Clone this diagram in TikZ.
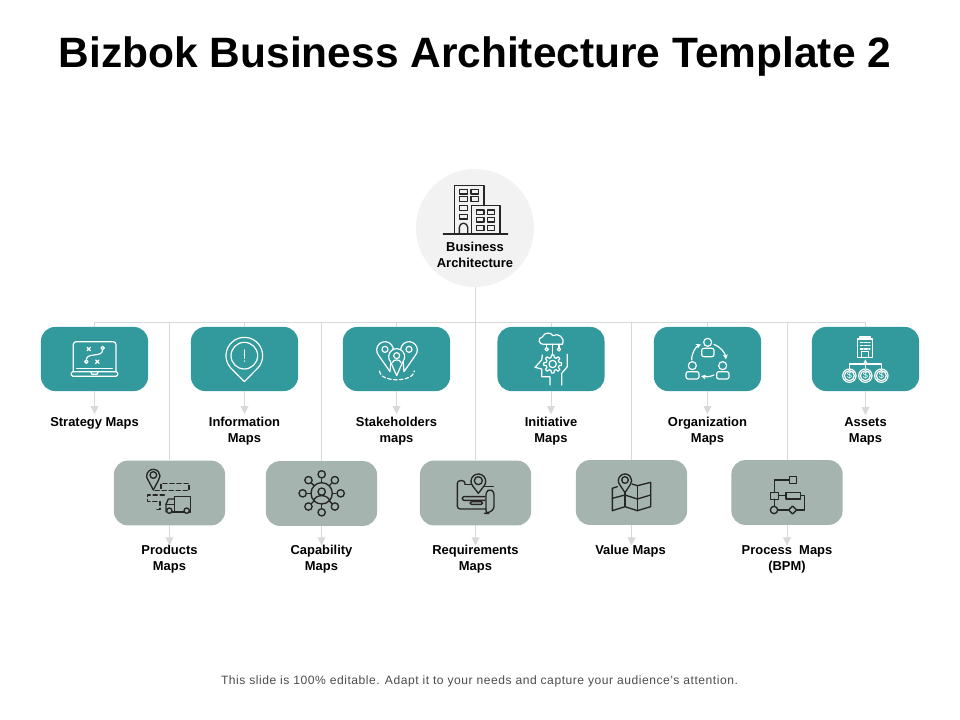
\documentclass[tikz,border=0pt]{standalone}
\usepackage{fontspec}
\setmainfont{Liberation Sans}
\usetikzlibrary{arrows.meta}
\definecolor{tealbox}{HTML}{329A9D}
\definecolor{sagebox}{HTML}{A5B4AE}
\definecolor{busgray}{HTML}{D9D9D9}
\definecolor{rootgray}{HTML}{F2F2F2}
\definecolor{iconink}{HTML}{262626}
\tikzset{
  tealnode/.style={fill=tealbox, rounded corners=0.35cm, minimum width=2.675cm, minimum height=1.6cm, inner sep=0pt, outer sep=0pt},
  sagenode/.style={fill=sagebox, rounded corners=0.35cm, minimum width=2.78cm, minimum height=1.62cm, inner sep=0pt, outer sep=0pt},
  maplabel/.style={font=\fontsize{9.2}{11.4}\selectfont\bfseries, align=center, inner sep=0pt, anchor=north},
  busline/.style={draw=busgray, line width=0.6pt},
  tipline/.style={busline, -{Triangle[width=5.6pt,length=5.6pt]}},
  zoomunits/.style={x=0.008333cm, y=-0.008333cm},
  iconwhite/.style={zoomunits, draw=white, line width=0.85pt, line join=round, line cap=round},
  iconblack/.style={zoomunits, draw=iconink, line width=0.95pt, line join=round, line cap=round},
  smallsign/.style={text=white, font=\fontsize{6.5}{6.5}\selectfont, inner sep=0pt}
}
\newcommand{\mappin}[6][]{\draw[#1] (#2,#3) ++(140:#4) arc (140:400:#4) -- (#5,#6) -- cycle;}
\begin{document}
\begin{tikzpicture}[x=0.025cm, y=-0.025cm]
\useasboundingbox (0,0) rectangle (960,720);

\node[font=\fontsize{30.2}{32}\selectfont\bfseries, inner sep=0pt] (title) at (475,56.5) {Bizbok Business Architecture Template 2};

\node[circle, fill=rootgray, minimum size=2.95cm, inner sep=0pt, outer sep=0pt] (root) at (475,228) {};
\node[maplabel] (rootlabel) at (475,242.2) {Business\\Architecture};

\node[tealnode] (strategy) at (94.5,359) {};
\node[tealnode] (information) at (244.5,359) {};
\node[tealnode] (stakeholders) at (396.5,359) {};
\node[tealnode] (initiative) at (551,359) {};
\node[tealnode] (organization) at (707.5,359) {};
\node[tealnode] (assets) at (865.5,359) {};

\node[sagenode] (products) at (169.5,493) {};
\node[sagenode] (capability) at (321.5,493.5) {};
\node[sagenode] (requirements) at (475.5,493) {};
\node[sagenode] (value) at (631.5,492.5) {};
\node[sagenode] (process) at (787,492.5) {};

\node[maplabel] (strategylabel) at (94.5,416.7) {Strategy Maps};
\node[maplabel] (informationlabel) at (244.5,416.7) {Information\\Maps};
\node[maplabel] (stakeholderslabel) at (396.5,416.7) {Stakeholders\\maps};
\node[maplabel] (initiativelabel) at (551,416.7) {Initiative\\Maps};
\node[maplabel] (organizationlabel) at (707.5,416.7) {Organization\\Maps};
\node[maplabel] (assetslabel) at (865.5,417.7) {Assets\\Maps};

\node[maplabel] (productslabel) at (169.5,545.3) {Products\\Maps};
\node[maplabel] (capabilitylabel) at (321.5,545.3) {Capability\\Maps};
\node[maplabel] (requirementslabel) at (475.5,545.3) {Requirements\\Maps};
\node[maplabel] (valuelabel) at (630.5,545.3) {Value Maps};
\node[maplabel] (processlabel) at (787,545.3) {Process~ Maps\\(BPM)};

\node[font=\fontsize{8.6}{11}\selectfont\addfontfeature{LetterSpace=4.4}, text=black!70, inner sep=0pt] (footer) at (479.5,681) {This slide is 100\% editable. Adapt it to your needs and capture your audience's attention.};

\coordinate (busleft) at (94.5,322);
\coordinate (busright) at (865.5,322);
\draw[busline] (busleft) -- (busright);
\draw[busline] (root.south) -- (root.south |- busleft);
\foreach \mapname in {strategy,information,stakeholders,initiative,organization,assets,products,capability,requirements,value,process}
  \draw[busline] (\mapname.north |- busleft) -- (\mapname.north);
\foreach \mapname in {strategy,information,stakeholders,initiative,organization,assets}
  \draw[tipline, shorten >=1.9pt] (\mapname.south) -- (\mapname.south |- \mapname label.north);
\foreach \mapname in {products,capability,requirements,value,process}
  \draw[tipline] (\mapname.south) -- (\mapname.south |- \mapname label.north);

% building
\begin{scope}[shift={(400,160)}, iconblack]
\draw (163,222) -- (163,77) -- (252,77) -- (252,137);
\draw (215,222) -- (215,137) -- (300,137) -- (300,222);
\draw (130,222) -- (323,222);
\foreach \y in {88,110,137,163} \draw (178,\y) rectangle (203,\y+14);
\foreach \y in {88,110} \draw (213,\y) rectangle (235,\y+14);
\foreach \x in {230,262} \foreach \y in {150,172,197} \draw (\x,\y) rectangle (\x+22,\y+14);
\draw (178,222) -- (178,202) arc (-180:0:12.5) -- (203,222);
\end{scope}

% laptop
\begin{scope}[shift={(30,315)}, iconwhite]
\draw[rounded corners=2pt] (130,170) -- (130,80) -- (258,80) -- (258,170);
\draw[rounded corners=1pt] (124,170) rectangle (263,184);
\draw (182,170) -- (186,178) -- (201,178) -- (205,170);
\draw (140,160) -- (247,160);
\draw (171,97) -- (181,107) (181,97) -- (171,107);
\draw (197,135) -- (207,145) (207,135) -- (197,145);
\draw (218,99) circle (5);
\draw (169,140) circle (5);
\draw (218,104) .. controls (218,130) and (169,110) .. (169,135);
\end{scope}

% information pin
\begin{scope}[shift={(30,315)}, iconwhite]
\mappin{643}{122}{55}{643}{200}
\draw (643,122) circle (40);
\draw (643,105) -- (643,130);
\draw (643,138) -- (643,139);
\end{scope}

% stakeholder pins
\begin{scope}[shift={(335,315)}, iconwhite]
\mappin{150}{105}{25}{165}{170}
\mappin{222}{105}{25}{207}{170}
\mappin[fill=tealbox]{185}{125}{24}{185}{182}
\draw (150,103) circle (9);
\draw (222,103) circle (9);
\draw (185,122) circle (9);
\draw (172,143) .. controls (174,132) and (196,132) .. (198,143);
\draw[dash pattern=on 2.6pt off 1.6pt] (133,168) .. controls (135,203) and (235,203) .. (238,168);
\end{scope}

% initiative head
\begin{scope}[shift={(335,315)}, iconwhite]
\draw (628,88) .. controls (608,88) and (608,68) .. (622,66) .. controls (628,50) and (650,52) .. (654,62) .. controls (668,52) and (692,68) .. (682,88) -- cycle;
\draw (635,88) -- (635,98) (672,88) -- (672,98) (653,88) -- (653,120);
\draw (635,103) circle (5);
\draw (672,103) circle (5);
\draw (653,147) circle (11);
\draw[shift={(653,147)}] (-8:27) \foreach \a in {0,45,...,315} {-- (\a-8:27) -- (\a+8:27) -- (\a+14:20) -- (\a+31:20)} -- cycle;
\draw (622,120) -- (620,135) -- (600,157) -- (620,162) -- (620,185) -- (645,185) -- (645,210);
\draw (680,210) -- (680,175) -- (697,155) -- (697,118);
\end{scope}

% organization cycle
\begin{scope}[shift={(640,315)}, iconwhite]
\draw (203,82) circle (12);
\draw (157,152) circle (12);
\draw (248,152) circle (12);
\draw[rounded corners=1.5pt] (185,125) -- (185,100) -- (222,100) -- (222,125) -- cycle;
\draw[rounded corners=1.5pt] (138,192) -- (138,170) -- (177,170) -- (177,192) -- cycle;
\draw[rounded corners=1.5pt] (230,192) -- (230,170) -- (267,170) -- (267,192) -- cycle;
\draw[-{Stealth[length=3.5pt,width=3.5pt]}] (155,135) .. controls (155,112) and (168,95) .. (183,88);
\draw[-{Stealth[length=3.5pt,width=3.5pt]}] (222,88) .. controls (240,95) and (255,112) .. (258,133);
\draw[-{Stealth[length=3.5pt,width=3.5pt]}] (222,180) .. controls (210,186) and (195,186) .. (183,183);
\end{scope}

% assets tree
\begin{scope}[shift={(640,315)}, iconwhite]
\draw (653,128) rectangle (698,72);
\draw (660,72) -- (660,66) -- (691,66) -- (691,72);
\draw (665,128) -- (665,110) -- (685,110) -- (685,128);
\foreach \y in {82,92,102} \draw[dash pattern=on 2pt off 1pt] (661,\y) -- (690,\y);
\draw[-{Stealth[length=3.5pt,width=3.5pt]}] (676,158) -- (676,133);
\draw (628,162) -- (628,147) -- (724,147) -- (724,162);
\foreach \x in {628,676,724} \draw (\x,182) circle (20);
\foreach \x in {628,676,724} \draw (\x,182) circle (15);
\node[smallsign] (dollarleft) at (628,182) {\$};
\node[smallsign] (dollarmid) at (676,182) {\$};
\node[smallsign] (dollarright) at (724,182) {\$};
\end{scope}

% products route
\begin{scope}[shift={(105,450)}, iconblack]
\mappin{145}{78}{20}{145}{120}
\draw (145,75) circle (10);
\draw[densely dashed] (150,122) -- (252,122) -- (252,100) -- (168,100) -- (168,122);
\draw[densely dashed] (178,135) -- (128,135) -- (128,154) -- (165,154) -- (165,178) -- (148,178);
\draw (208,182) -- (208,140) -- (256,140) -- (256,186) -- (253,186);
\draw (208,147) -- (190,147) -- (183,163) -- (183,186);
\draw (183,163) -- (208,163);
\draw (200,186) -- (237,186);
\draw (193,182) circle (8);
\draw (245,182) circle (8);
\end{scope}

% capability wheel
\begin{scope}[shift={(105,450)}, iconblack]
\draw (650,130) circle (32);
\draw (650,125) circle (11);
\draw (626,152) .. controls (632,132) and (668,132) .. (674,152);
\foreach \a in {0,45,...,315} \draw (650,130) ++(\a:32) -- ++(\a:11);
\foreach \a in {0,90,180,270} \draw (650,130) ++(\a:57) circle (11);
\foreach \a in {45,135,225,315} \draw (650,130) ++(\a:56) circle (11);
\end{scope}

% requirements scroll
\begin{scope}[shift={(410,450)}, iconblack]
\draw[rounded corners=2pt] (165,103) -- (165,92) -- (142,92) -- (142,177) -- (228,177);
\draw (165,103) -- (186,103);
\draw (224,110) -- (250,110);
\draw[rounded corners=2pt] (228,190) -- (228,125) -- (240,118) -- (252,125) -- (252,178) -- (232,190) -- cycle;
\draw[rounded corners=1pt] (225,140) -- (157,140) -- (157,151) -- (225,151);
\draw[rounded corners=1pt] (180,155) rectangle (218,163);
\mappin[fill=sagebox]{205}{94}{22}{205}{130}
\draw (205,92) circle (12);
\end{scope}

% folded map
\begin{scope}[shift={(410,450)}, iconblack]
\draw (607,115) -- (607,182) -- (645,170) -- (682,182) -- (722,170) -- (722,97) -- (682,107) -- (666,102);
\draw (607,115) -- (622,110);
\draw (645,128) -- (645,170);
\draw (682,107) -- (682,182);
\draw (607,145) -- (645,135) -- (682,147) -- (722,135);
\mappin[fill=sagebox]{645}{92}{20}{645}{128}
\draw (645,90) circle (10);
\end{scope}

% process flow
\begin{scope}[shift={(720,450)}, iconblack]
\draw (208,80) rectangle (230,100);
\draw (152,127) rectangle (175,148);
\draw (198,127) rectangle (242,147);
\draw (162,180) circle (11);
\draw (218,168) -- (230,180) -- (218,192) -- (206,180) -- cycle;
\draw (208,90) -- (163,90) -- (163,127);
\draw (175,137) -- (198,137);
\draw (163,148) -- (163,169);
\draw (173,180) -- (206,180);
\draw (230,180) -- (254,180) -- (254,137) -- (242,137);
\end{scope}
\end{tikzpicture}
\end{document}
